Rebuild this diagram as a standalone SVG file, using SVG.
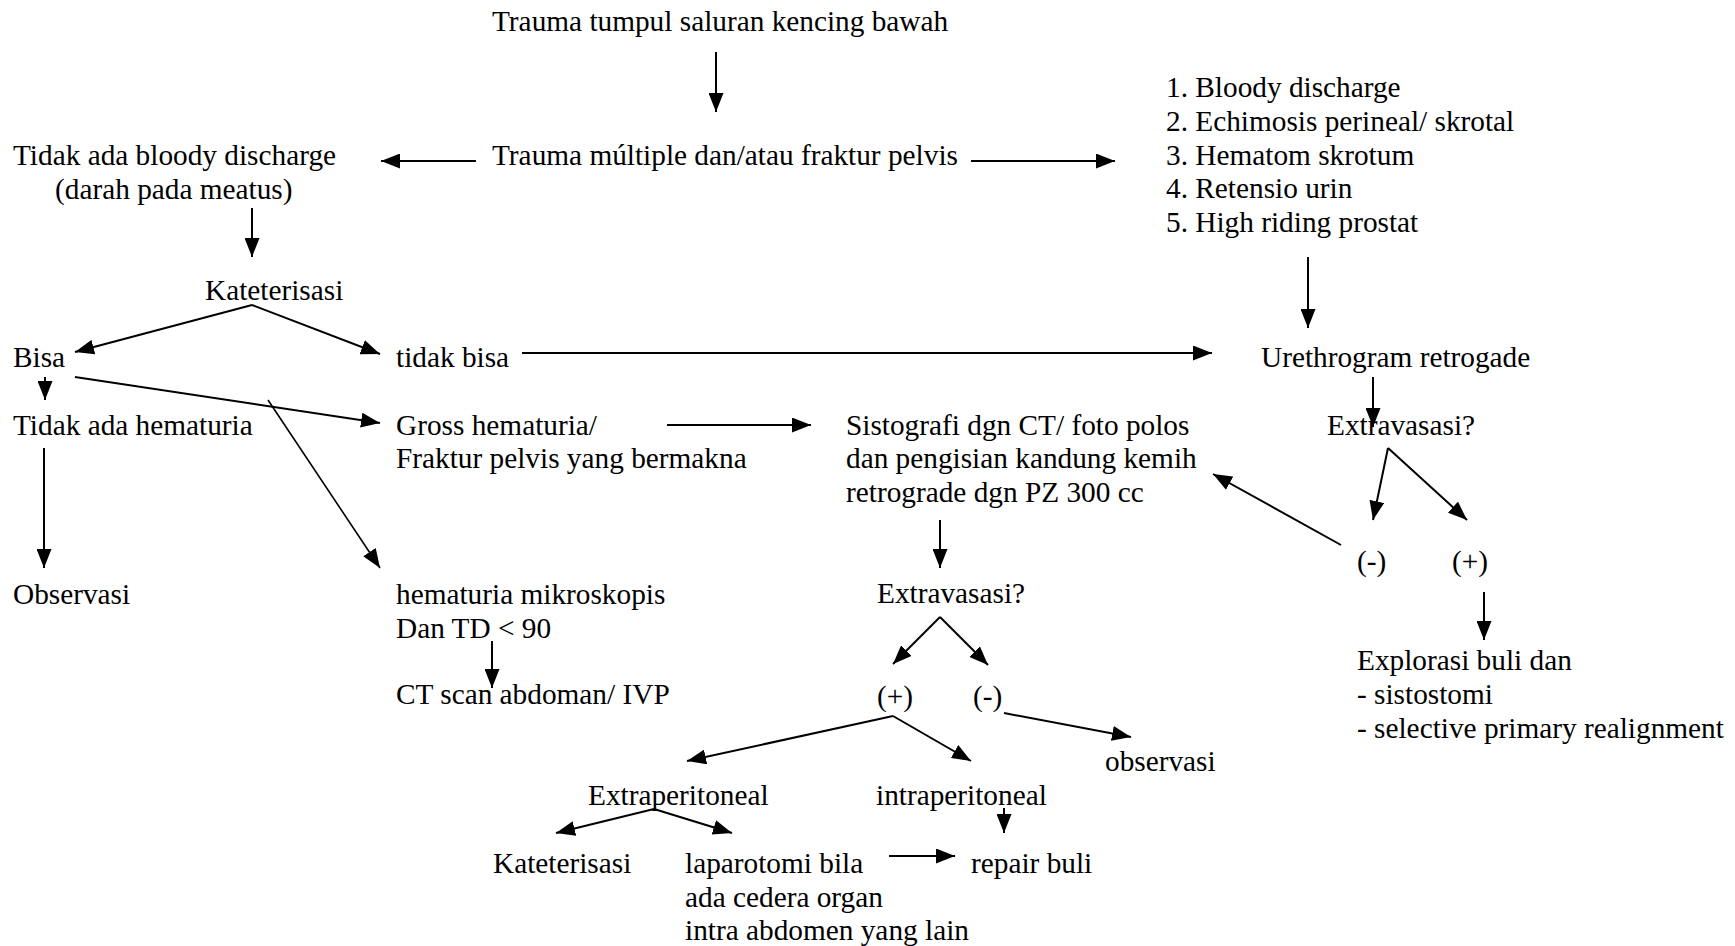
<svg xmlns="http://www.w3.org/2000/svg" width="1735" height="946" viewBox="0 0 1735 946">
<style>
text{font-family:"Liberation Serif","Times New Roman",serif;font-size:29.3px;fill:#000}
.c line{stroke:#000;stroke-width:2;fill:none}
.c .a{marker-end:url(#ah)}
.c .thin{stroke-width:1.6}
</style>
<defs>
<marker id="ah" markerUnits="userSpaceOnUse" markerWidth="19" markerHeight="15" refX="19" refY="7.5" orient="auto">
<path d="M0,0 L19,7.5 L0,15 z" fill="#000"/>
</marker>
</defs>
<rect width="1735" height="946" fill="#fff"/>
<g id="n-trauma-tumpul"><text x="492" y="31">Trauma tumpul saluran kencing bawah</text></g>
<g id="n-trauma-multiple"><text x="492" y="165">Trauma múltiple dan/atau fraktur pelvis</text></g>
<g id="n-tidak-bloody"><text x="13" y="165">Tidak ada bloody discharge</text><text x="55" y="199">(darah pada meatus)</text></g>
<g id="n-list"><text x="1166" y="97">1. Bloody discharge</text><text x="1166" y="131">2. Echimosis perineal/ skrotal</text><text x="1166" y="165">3. Hematom skrotum</text><text x="1166" y="198">4. Retensio urin</text><text x="1166" y="232">5. High riding prostat</text></g>
<g id="n-kateterisasi1"><text x="205" y="300">Kateterisasi</text></g>
<g id="n-bisa"><text x="13" y="367">Bisa</text></g>
<g id="n-tidak-bisa"><text x="396" y="367">tidak bisa</text></g>
<g id="n-urethrogram"><text x="1261" y="367">Urethrogram retrogade</text></g>
<g id="n-tidak-hematuria"><text x="13" y="435">Tidak ada hematuria</text></g>
<g id="n-gross"><text x="396" y="435">Gross hematuria/</text><text x="396" y="468">Fraktur pelvis yang bermakna</text></g>
<g id="n-sistografi"><text x="846" y="435">Sistografi dgn CT/ foto polos</text><text x="846" y="468">dan pengisian kandung kemih</text><text x="846" y="502">retrograde dgn PZ 300 cc</text></g>
<g id="n-extravasasi-r"><text x="1327" y="435">Extravasasi?</text></g>
<g id="n-neg-r"><text x="1357" y="571">(-)</text></g>
<g id="n-pos-r"><text x="1452" y="571">(+)</text></g>
<g id="n-observasi1"><text x="13" y="604">Observasi</text></g>
<g id="n-mikroskopis"><text x="396" y="604">hematuria mikroskopis</text><text x="396" y="638">Dan TD &lt; 90</text></g>
<g id="n-extravasasi-m"><text x="877" y="603">Extravasasi?</text></g>
<g id="n-explorasi"><text x="1357" y="670">Explorasi buli dan</text><text x="1357" y="704">- sistostomi</text><text x="1357" y="738">- selective primary realignment</text></g>
<g id="n-ctscan"><text x="396" y="704">CT scan abdoman/ IVP</text></g>
<g id="n-pos-m"><text x="877" y="706">(+)</text></g>
<g id="n-neg-m"><text x="973" y="706">(-)</text></g>
<g id="n-observasi2"><text x="1105" y="771">observasi</text></g>
<g id="n-extraperitoneal"><text x="588" y="805">Extraperitoneal</text></g>
<g id="n-intraperitoneal"><text x="876" y="805">intraperitoneal</text></g>
<g id="n-kateterisasi2"><text x="493" y="873">Kateterisasi</text></g>
<g id="n-laparotomi"><text x="685" y="873">laparotomi bila</text><text x="685" y="907">ada cedera organ</text><text x="685" y="940">intra abdomen yang lain</text></g>
<g id="n-repair"><text x="971" y="873">repair buli</text></g>
<g id="connectors" class="c">
<line class="a" x1="716" y1="52" x2="716" y2="112"/>
<line class="a" x1="476" y1="161" x2="381" y2="161"/>
<line class="a" x1="971" y1="161" x2="1115" y2="161"/>
<line class="a" x1="252" y1="208" x2="252" y2="257"/>
<line class="a" x1="252" y1="305" x2="75" y2="352"/>
<line class="a" x1="252" y1="305" x2="380" y2="354"/>
<line class="a" x1="522" y1="353" x2="1212" y2="353"/>
<line class="a" x1="1308" y1="257" x2="1308" y2="328"/>
<line class="a" x1="45" y1="377" x2="45" y2="400"/>
<line class="a" x1="75" y1="377" x2="380" y2="423"/>
<line class="a thin" x1="268" y1="400" x2="380" y2="568"/>
<line class="a" x1="44" y1="448" x2="44" y2="568"/>
<line class="a" x1="492" y1="641" x2="492" y2="688"/>
<line class="a" x1="667" y1="425" x2="811" y2="425"/>
<line class="a" x1="940" y1="520" x2="940" y2="568"/>
<line x1="940" y1="617" x2="893" y2="664" class="a"/>
<line x1="940" y1="617" x2="988" y2="665" class="a"/>
<line class="a" x1="1004" y1="713" x2="1131" y2="737"/>
<line class="a" x1="893" y1="716" x2="687" y2="761"/>
<line class="a" x1="893" y1="716" x2="971" y2="761"/>
<line class="a" x1="654" y1="809" x2="556" y2="833"/>
<line class="a" x1="654" y1="809" x2="732" y2="833"/>
<line class="a" x1="1004" y1="808" x2="1004" y2="833"/>
<line class="a" x1="889" y1="856" x2="955" y2="856"/>
<line class="a" x1="1373" y1="377" x2="1373" y2="427"/>
<line class="a" x1="1388" y1="448" x2="1373" y2="520"/>
<line class="a" x1="1388" y1="448" x2="1467" y2="520"/>
<line class="a" x1="1341" y1="545" x2="1213" y2="474"/>
<line class="a" x1="1484" y1="592" x2="1484" y2="640"/>
</g>
</svg>
